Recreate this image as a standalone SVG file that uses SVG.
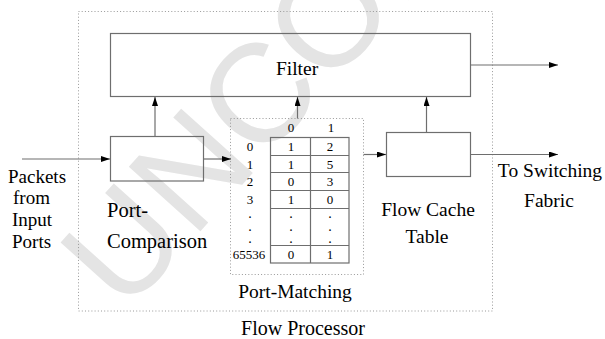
<svg xmlns="http://www.w3.org/2000/svg" width="605" height="339" viewBox="0 0 605 339" font-family="'Liberation Serif', 'Times New Roman', 'DejaVu Serif', serif">
<defs>
<style>
.lbl{font-family:'Liberation Serif','Times New Roman',serif;font-size:19.5px;fill:#000}
.num{font-family:'Liberation Serif','Times New Roman',serif;font-size:13px;text-anchor:middle;fill:#000}
.dt{font-family:'Liberation Serif','Times New Roman',serif;font-size:10px;text-anchor:middle;fill:#000;font-weight:bold}
.box{fill:none;stroke:#6e6e6e;stroke-width:1.2}
.dot{fill:none;stroke:#999;stroke-width:1;stroke-dasharray:1 2.2}
.ln{fill:none;stroke:#6e6e6e;stroke-width:1.2}
.wm{font-family:'Liberation Sans',Arial,sans-serif;font-size:140px;fill:#e4e4e4}
</style>
<marker id="ah" markerUnits="userSpaceOnUse" markerWidth="9" markerHeight="6" refX="9" refY="3" orient="auto">
<path d="M0,0 L9,3 L0,6 z" fill="#000"/>
</marker>
</defs>
<rect width="605" height="339" fill="#fff"/>
<text class="wm" x="125" y="315" transform="rotate(-48 125 315)">UNCOR</text>

<g id="flow-processor">
<rect class="dot" x="78.5" y="11.5" width="414" height="299.5"/>
<text class="lbl" x="303" y="335" text-anchor="middle" style="font-size:20px">Flow Processor</text>
</g>

<g id="filter">
<rect class="box" x="110.5" y="33.5" width="360" height="63"/>
<text class="lbl" x="297" y="74.5" text-anchor="middle">Filter</text>
</g>

<g id="port-comparison">
<rect class="box" x="110.5" y="136.5" width="93" height="44.5"/>
<text class="lbl" x="107" y="217" style="font-size:20.5px">Port-</text>
<text class="lbl" x="107" y="248" style="font-size:20.5px">Comparison</text>
</g>

<g id="port-matching">
<rect class="dot" x="230.5" y="118.5" width="133" height="156"/>
<rect class="box" x="270.5" y="137.5" width="78.5" height="125.5"/>
<line class="ln" x1="310.5" y1="137.5" x2="310.5" y2="263"/>
<line class="ln" x1="270.5" y1="155.5" x2="349" y2="155.5"/>
<line class="ln" x1="270.5" y1="172.5" x2="349" y2="172.5"/>
<line class="ln" x1="270.5" y1="190.5" x2="349" y2="190.5"/>
<line class="ln" x1="270.5" y1="208.5" x2="349" y2="208.5"/>
<line class="ln" x1="270.5" y1="245.5" x2="349" y2="245.5"/>
<text class="num" x="291" y="132">0</text>
<text class="num" x="331" y="132">1</text>
<text class="num" x="250" y="151">0</text>
<text class="num" x="291" y="151">1</text>
<text class="num" x="330" y="151">2</text>
<text class="num" x="250" y="168.5">1</text>
<text class="num" x="291" y="168.5">1</text>
<text class="num" x="330" y="168.5">5</text>
<text class="num" x="250" y="186">2</text>
<text class="num" x="291" y="186">0</text>
<text class="num" x="330" y="186">3</text>
<text class="num" x="250" y="204">3</text>
<text class="num" x="291" y="204">1</text>
<text class="num" x="330" y="204">0</text>
<text class="dt" x="250" y="218">.</text>
<text class="dt" x="291" y="218">.</text>
<text class="dt" x="330" y="218">.</text>
<text class="dt" x="250" y="230.5">.</text>
<text class="dt" x="291" y="230.5">.</text>
<text class="dt" x="330" y="230.5">.</text>
<text class="dt" x="250" y="243">.</text>
<text class="dt" x="291" y="243">.</text>
<text class="dt" x="330" y="243">.</text>
<text class="num" x="249" y="259">65536</text>
<text class="num" x="291" y="259">0</text>
<text class="num" x="330" y="259">1</text>
<text class="lbl" x="295" y="298" text-anchor="middle">Port-Matching</text>
</g>

<g id="flow-cache-table">
<rect class="box" x="386.5" y="132.5" width="84" height="44"/>
<text class="lbl" x="428" y="216" text-anchor="middle">Flow Cache</text>
<text class="lbl" x="427" y="243" text-anchor="middle">Table</text>
</g>

<g id="input-label">
<text class="lbl" x="8" y="183" style="font-size:19px">Packets</text>
<text class="lbl" x="13" y="204" style="font-size:19px">from</text>
<text class="lbl" x="12" y="226" style="font-size:19px">Input</text>
<text class="lbl" x="12" y="248" style="font-size:19px">Ports</text>
</g>

<g id="output-label">
<text class="lbl" x="550" y="177" text-anchor="middle">To Switching</text>
<text class="lbl" x="549" y="207" text-anchor="middle">Fabric</text>
</g>

<g id="connectors">
<line class="ln" x1="22" y1="159" x2="110" y2="159" marker-end="url(#ah)"/>
<line class="ln" x1="203.5" y1="159" x2="231" y2="159" marker-end="url(#ah)"/>
<line class="ln" x1="363.5" y1="154.5" x2="386" y2="154.5" marker-end="url(#ah)"/>
<line class="ln" x1="470.5" y1="154.5" x2="558" y2="154.5" marker-end="url(#ah)"/>
<line class="ln" x1="470.5" y1="65" x2="558" y2="65" marker-end="url(#ah)"/>
<line class="ln" x1="155" y1="136.5" x2="155" y2="97" marker-end="url(#ah)"/>
<line class="ln" x1="297.5" y1="118.5" x2="297.5" y2="97" marker-end="url(#ah)"/>
<line class="ln" x1="426.5" y1="132.5" x2="426.5" y2="97" marker-end="url(#ah)"/>
</g>
</svg>
